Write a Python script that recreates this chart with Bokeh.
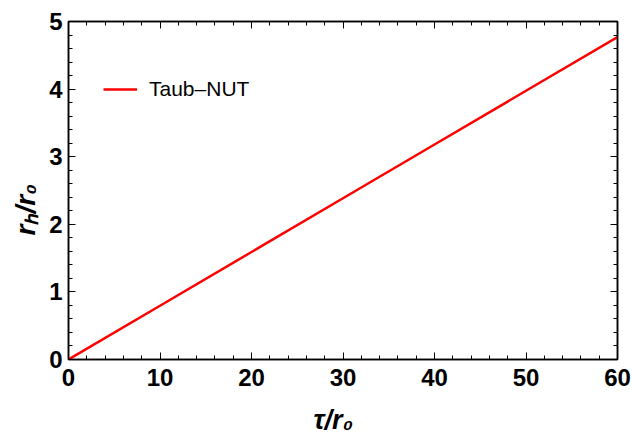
from bokeh.plotting import figure
from bokeh.models import (LinearAxis, Range1d, Legend, LegendItem, Title,
                          SingleIntervalTicker, CustomJSTickFormatter)
from bokeh.embed import file_html
from bokeh.resources import INLINE

# data
tau = [0, 10, 20, 30, 40, 50, 60]
rh = [0.0, 0.795, 1.59, 2.385, 3.18, 3.975, 4.77]
series_name = "Taub\u2013NUT"
x_title = "\u03c4/r\u2080"          # tau / r_0
y_title = "r\u2095/r\u2080"         # r_h / r_0
x_range = (0, 60)
y_range = (0, 5)

W, H = 632, 436
L, R, T, B = 68, 15, 21, 77

p = figure(width=W, height=H, output_backend="svg", toolbar_location=None,
           x_range=Range1d(*x_range), y_range=Range1d(*y_range),
           x_axis_type=None, y_axis_type=None,
           min_border_left=L, min_border_right=R, min_border_top=T, min_border_bottom=B)
p.background_fill_color = "white"
p.border_fill_color = "white"
p.outline_line_color = "black"
p.outline_line_width = 1.5
p.xgrid.visible = False
p.ygrid.visible = False

FONT = "Liberation Sans"


def style(ax, labels=True):
    ax.axis_line_color = "black"
    ax.axis_line_width = 1.5
    ax.major_tick_in = 7
    ax.major_tick_out = 0
    ax.minor_tick_in = 4
    ax.minor_tick_out = 0
    ax.major_tick_line_color = "black"
    ax.minor_tick_line_color = "black"
    ax.major_tick_line_width = 1
    ax.minor_tick_line_width = 1
    ax.major_label_text_font = FONT
    ax.major_label_text_font_style = "bold"
    ax.major_label_text_font_size = "24px"
    ax.major_label_text_color = "black"
    if not labels:
        ax.formatter = CustomJSTickFormatter(code="return ''")
        ax.major_label_standoff = 0


xt = lambda: SingleIntervalTicker(interval=10, num_minor_ticks=5)
yt = lambda: SingleIntervalTicker(interval=1, num_minor_ticks=5)

bx = LinearAxis(ticker=xt()); style(bx); bx.major_label_standoff = 9
lx = LinearAxis(ticker=yt()); style(lx); lx.major_label_standoff = 6
tx = LinearAxis(ticker=xt()); style(tx, labels=False)
rx = LinearAxis(ticker=yt()); style(rx, labels=False)
p.add_layout(bx, "below")
p.add_layout(lx, "left")
p.add_layout(tx, "above")
p.add_layout(rx, "right")

r = p.line(tau, rh, line_color="#ff0000", line_width=2.5)

leg = Legend(items=[LegendItem(label=series_name, renderers=[r])],
             location=(35, 258), border_line_color=None, background_fill_alpha=0,
             label_text_font=FONT, label_text_font_size="21px", label_text_color="black",
             glyph_width=34, glyph_height=20, label_standoff=12, padding=0, margin=0,
             spacing=0)
p.add_layout(leg, "center")


def title(text, size, offset, standoff):
    return Title(text=text, align="left", offset=offset, standoff=standoff,
                 text_font=FONT, text_font_size=size, text_font_style="bold italic",
                 text_color="black")


# small blank spacer so the x title sits near the bottom edge
p.add_layout(title("\u00a0", "10px", 0, 0), "below")
p.add_layout(title(x_title, "27px", 245, 2), "below")
p.add_layout(title(y_title, "28px", 124, 12), "left")

open("out.html", "w").write(file_html(p, INLINE))
